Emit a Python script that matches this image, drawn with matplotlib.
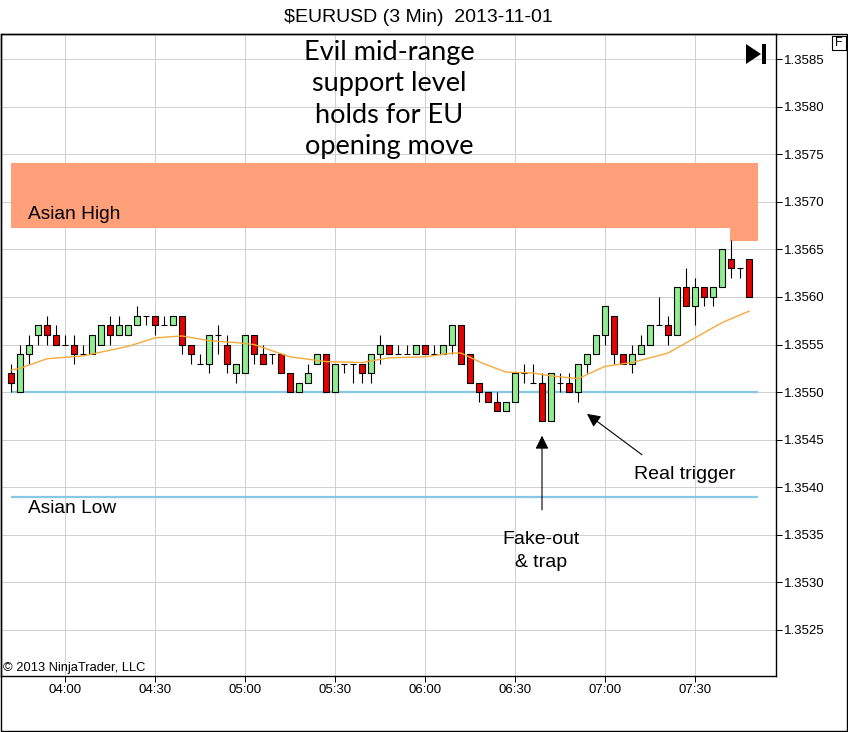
import pandas as pd
import matplotlib.pyplot as plt
from matplotlib.patches import Rectangle, Polygon

# 3 minute bars, 03:42 .. 07:48
opens = [1.3552, 1.3550, 1.3554, 1.3556, 1.3557, 1.3556, 1.3555, 1.3555, 1.3554, 1.3554,
         1.3555, 1.3557, 1.3556, 1.3556, 1.3557, 1.3558, 1.3558, 1.3557, 1.3557, 1.3558,
         1.3555, 1.3553, 1.3553, 1.3556, 1.3555, 1.3552, 1.3552, 1.3556, 1.3554, 1.3554,
         1.3554, 1.3552, 1.3550, 1.3551, 1.3553, 1.3554, 1.3550, 1.3553, 1.3553, 1.3553,
         1.3552, 1.3554, 1.3555, 1.3554, 1.3554, 1.3554, 1.3555, 1.3554, 1.3554, 1.3555,
         1.3557, 1.3554, 1.3551, 1.3550, 1.3549, 1.3548, 1.3549, 1.3552, 1.3551, 1.3551,
         1.3547, 1.3551, 1.3551, 1.3550, 1.3553, 1.3554, 1.3556, 1.3558, 1.3554, 1.3553,
         1.3554, 1.3555, 1.3557, 1.3557, 1.3556, 1.3561, 1.3559, 1.3561, 1.3560, 1.3561,
         1.3564, 1.3563, 1.3564]
highs = [1.3553, 1.3555, 1.3556, 1.3557, 1.3558, 1.3557, 1.3556, 1.3556, 1.3555, 1.3556,
         1.3557, 1.3558, 1.3558, 1.3557, 1.3559, 1.3558, 1.3558, 1.3558, 1.3558, 1.3558,
         1.3555, 1.3554, 1.3556, 1.3557, 1.3556, 1.3553, 1.3556, 1.3556, 1.3555, 1.3554,
         1.3554, 1.3552, 1.3551, 1.3553, 1.3554, 1.3554, 1.3553, 1.3553, 1.3553, 1.3553,
         1.3554, 1.3556, 1.3555, 1.3555, 1.3555, 1.3555, 1.3555, 1.3555, 1.3555, 1.3557,
         1.3557, 1.3554, 1.3551, 1.3550, 1.3550, 1.3549, 1.3552, 1.3553, 1.3553, 1.3552,
         1.3552, 1.3552, 1.3552, 1.3553, 1.3554, 1.3556, 1.3559, 1.3558, 1.3554, 1.3555,
         1.3556, 1.3557, 1.3560, 1.3558, 1.3561, 1.3563, 1.3562, 1.3561, 1.3561, 1.3565,
         1.3566, 1.3563, 1.3564]
lows = [1.3550, 1.3550, 1.3553, 1.3555, 1.3555, 1.3555, 1.3555, 1.3553, 1.3554, 1.3554,
        1.3555, 1.3555, 1.3556, 1.3556, 1.3557, 1.3557, 1.3556, 1.3557, 1.3557, 1.3554,
        1.3553, 1.3553, 1.3552, 1.3554, 1.3552, 1.3551, 1.3552, 1.3553, 1.3553, 1.3553,
        1.3552, 1.3550, 1.3550, 1.3551, 1.3553, 1.3550, 1.3550, 1.3552, 1.3551, 1.3551,
        1.3551, 1.3553, 1.3554, 1.3554, 1.3554, 1.3554, 1.3554, 1.3554, 1.3554, 1.3554,
        1.3553, 1.3551, 1.3549, 1.3549, 1.3548, 1.3548, 1.3549, 1.3551, 1.3551, 1.3547,
        1.3547, 1.3550, 1.3550, 1.3549, 1.3552, 1.3554, 1.3555, 1.3553, 1.3553, 1.3552,
        1.3554, 1.3555, 1.3557, 1.3555, 1.3556, 1.3559, 1.3557, 1.3559, 1.3559, 1.3561,
        1.3562, 1.3562, 1.3560]
closes = [1.3551, 1.3554, 1.3555, 1.3557, 1.3556, 1.3555, 1.3555, 1.3554, 1.3554, 1.3556,
          1.3557, 1.3556, 1.3557, 1.3557, 1.3558, 1.3558, 1.3557, 1.3557, 1.3558, 1.3555,
          1.3554, 1.3553, 1.3556, 1.3556, 1.3553, 1.3553, 1.3556, 1.3554, 1.3553, 1.3554,
          1.3552, 1.3550, 1.3551, 1.3552, 1.3554, 1.3550, 1.3553, 1.3553, 1.3553, 1.3552,
          1.3554, 1.3555, 1.3554, 1.3554, 1.3554, 1.3555, 1.3554, 1.3554, 1.3555, 1.3557,
          1.3553, 1.3551, 1.3550, 1.3549, 1.3548, 1.3549, 1.3552, 1.3552, 1.3551, 1.3547,
          1.3552, 1.3551, 1.3550, 1.3553, 1.3554, 1.3556, 1.3559, 1.3554, 1.3553, 1.3554,
          1.3555, 1.3557, 1.3557, 1.3556, 1.3561, 1.3559, 1.3561, 1.3560, 1.3561, 1.3565,
          1.3563, 1.3563, 1.3560]

# moving average at some bars
ma_times = ["03:42", "03:45", "03:54", "04:06", "04:21", "04:30", "04:39", "04:48", "04:57", "05:03",
            "05:15", "05:27", "05:39", "05:48", "06:00", "06:09", "06:12", "06:18", "06:21", "06:27",
            "06:36", "06:42", "06:51", "07:00", "07:09", "07:21", "07:30", "07:39", "07:48"]
ma_values = [1.35523, 1.35525, 1.35535, 1.35538, 1.35548, 1.35557, 1.35559, 1.35554, 1.35552, 1.35550,
             1.35537, 1.35532, 1.35531, 1.35536, 1.35537, 1.35541, 1.35541, 1.35532, 1.35528, 1.35521,
             1.35520, 1.35517, 1.35514, 1.35527, 1.35531, 1.35541, 1.35557, 1.35573, 1.35585]

x_tick_labels = ["04:00", "04:30", "05:00", "05:30", "06:00", "06:30", "07:00", "07:30"]
y_ticks = [1.3525, 1.3530, 1.3535, 1.3540, 1.3545, 1.3550, 1.3555, 1.3560, 1.3565, 1.3570, 1.3575, 1.3580, 1.3585]

asian_high_zone = (1.35673, 1.35741)
asian_high_ext = (1.35659, 1.35673)
support_level = 1.3550
asian_low = 1.3539


def to_min(s):
    h, m = s.split(":")
    return int(h) * 60 + int(m)


times = pd.date_range("2013-11-01 03:42", periods=len(opens), freq="3min")
x = [t.hour * 60 + t.minute for t in times]
W, H = 848, 732


def fxy(px, py):
    # pixel position -> figure fraction
    return px / W, 1 - py / H


plt.rcParams['font.family'] = ['Liberation Sans', 'DejaVu Sans']
fig = plt.figure(figsize=(W / 100, H / 100), dpi=100)
ax = fig.add_axes([0.5 / W, (H - 676) / H, 775.5 / W, (676 - 34) / H])

ax.set_xlim(218.5, 477)
ax.set_ylim(1.352011, 1.358768)

# grid
ax.set_xticks([to_min(s) for s in x_tick_labels])
ax.set_xticklabels(x_tick_labels, fontsize=9.5)
ax.set_yticks(y_ticks)
ax.set_yticklabels([f"{v:.4f}" for v in y_ticks], fontsize=9.5)
ax.yaxis.tick_right()
ax.tick_params(axis='both', direction='out', length=4.3, width=0.72, pad=1.5)
ax.grid(True, color='#D0D0D0', lw=0.72, zorder=0)
ax.set_axisbelow(True)
for sp in ax.spines.values():
    sp.set_linewidth(1.0)

# zones and levels
x0, x1 = x[0], x[-1] + 3
ax.add_patch(Rectangle((x0, asian_high_zone[0]), x1 - x0, asian_high_zone[1] - asian_high_zone[0],
                       facecolor='#FFA07A', edgecolor='none', zorder=1.5))
ax.add_patch(Rectangle((x[-3] - 0.5, asian_high_ext[0]), x1 - x[-3] + 0.5, asian_high_ext[1] - asian_high_ext[0],
                       facecolor='#FFA07A', edgecolor='none', zorder=1.5))
ax.hlines([support_level, asian_low], x0, x1, color='#87C8E6', lw=1.6, zorder=1.6)

# candles
ax.vlines(x, lows, highs, color='black', lw=0.8, zorder=2)
bw = 2.1
for xi, o, c in zip(x, opens, closes):
    if c == o:
        ax.hlines(o, xi - bw / 2, xi + bw / 2, color='black', lw=0.8, zorder=3)
    else:
        col = '#90EE90' if c > o else '#E60000'
        ax.bar(xi, abs(c - o), bottom=min(o, c), width=bw, color=col,
               edgecolor='black', lw=0.8, zorder=3)

ax.plot([to_min(s) for s in ma_times], ma_values, color='#F4A93C', lw=1.0, zorder=4)

# annotations
ax.text(227.7, 1.35687, "Asian High", fontsize=13.8, ha='left', va='center', zorder=5)
ax.text(227.7, 1.35377, "Asian Low", fontsize=13.8, ha='left', va='center', zorder=5)
ax.text(348, 1.35808, "Evil mid-range\nsupport level\nholds for EU\nopening move",
        fontsize=19.5, family=['Lato', 'DejaVu Sans'], ha='center', va='center',
        linespacing=1.32, zorder=5)
ax.text(398.7, 1.35333, "Fake-out\n& trap", fontsize=14, ha='center', va='center',
        linespacing=1.45, zorder=5)
ax.text(429.7, 1.35413, "Real trigger", fontsize=14, ha='left', va='center', zorder=5)
arrow = dict(arrowstyle='-|>', mutation_scale=20, lw=0.8, color='black', shrinkA=0, shrinkB=0)
ax.annotate("", xy=(399, 1.35454), xytext=(399, 1.35376), arrowprops=arrow, zorder=5)
ax.annotate("", xy=(414, 1.35477), xytext=(432.3, 1.35434), arrowprops=arrow, zorder=5)

# title, copyright, corner widgets
fig.text(*fxy(418, 17), r"\$EURUSD (3 Min)  2013-11-01", fontsize=14, ha='center', va='center')
fig.text(*fxy(3, 668), "\u00a9 2013 NinjaTrader, LLC", fontsize=9.3, ha='left', va='center')
fig.patches.append(Polygon([fxy(746, 44), fxy(746, 64), fxy(761, 54)], closed=True,
                           facecolor='black', edgecolor='none', transform=fig.transFigure))
fig.patches.append(Rectangle(fxy(762, 64), 4 / W, 20 / H, facecolor='black', edgecolor='none',
                             transform=fig.transFigure))
fig.patches.append(Rectangle(fxy(832, 50), 14 / W, 14 / H, facecolor='white', edgecolor='black',
                             lw=0.8, transform=fig.transFigure))
fig.text(*fxy(839, 43.5), "F", fontsize=9, ha='center', va='center')
fig.patches.append(Rectangle(fxy(0.5, 730.5), 846 / W, 696.5 / H, fill=False, edgecolor='black',
                             lw=1.0, transform=fig.transFigure))

fig.savefig("out.png", dpi=100)
